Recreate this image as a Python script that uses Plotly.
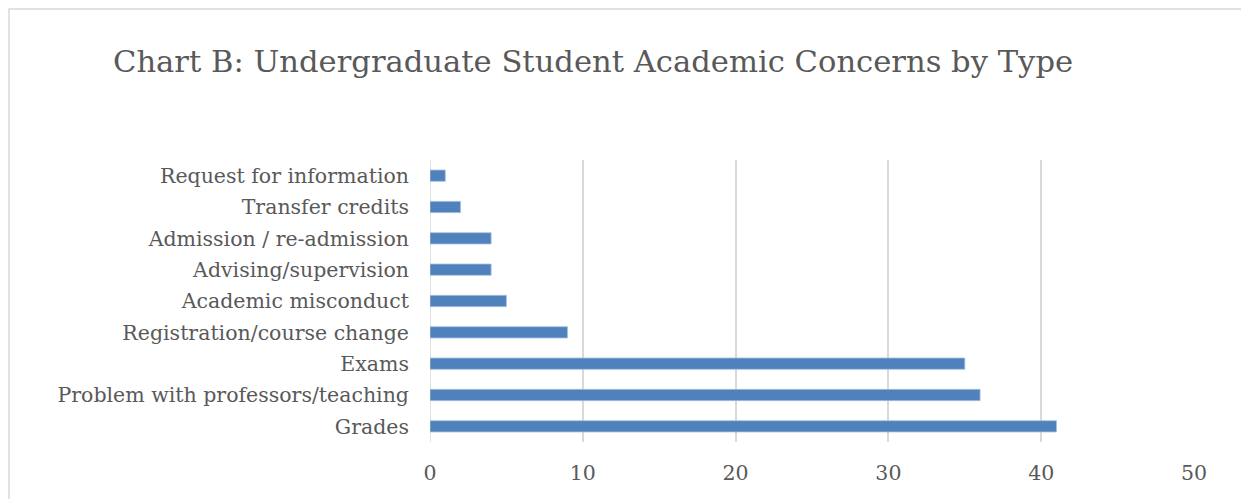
import plotly.graph_objects as go

# Concern categories (bottom to top) and counts
categories = [
    "Grades",
    "Problem with professors/teaching",
    "Exams",
    "Registration/course change",
    "Academic misconduct",
    "Advising/supervision",
    "Admission / re-admission",
    "Transfer credits",
    "Request for information",
]
counts = [41, 36, 35, 9, 5, 4, 4, 2, 1]
x_ticks = [0, 10, 20, 30, 40, 50]

W, H = 1241, 499
L, R, T, B = 430, 47, 160, 57
font_family = "DejaVu Serif, serif"
text_color = "#595959"

fig = go.Figure(
    go.Bar(
        x=counts,
        y=categories,
        orientation="h",
        width=0.36,
        marker=dict(color="#4F81BD", line=dict(color="#A7C0DE", width=0.8)),
        hoverinfo="x+y",
    )
)

# Outer chart border (left and top edges visible)
pw, ph = W - L - R, H - T - B
x0 = (9 - L) / pw
x1 = (W + 5 - L) / pw
y1 = 1 + (T - 9) / ph
y0 = -(H + 5 - (H - B)) / ph
fig.add_shape(type="rect", xref="paper", yref="paper", x0=x0, x1=x1, y0=y0, y1=y1,
              line=dict(color="#D9D9D9", width=1.5), fillcolor="rgba(0,0,0,0)", layer="below")

fig.update_layout(
    width=W,
    height=H,
    margin=dict(l=L, r=R, t=T, b=B),
    paper_bgcolor="white",
    plot_bgcolor="white",
    showlegend=False,
    font=dict(family=font_family, color=text_color),
    title=dict(
        text="Chart B: Undergraduate Student Academic Concerns by Type",
        x=113 / W,
        xanchor="left",
        xref="container",
        y=1 - 61 / H,
        yanchor="middle",
        yref="container",
        font=dict(family=font_family, size=30.6, color=text_color),
    ),
    xaxis=dict(
        range=[0, 50],
        tickvals=x_ticks,
        showgrid=True,
        gridcolor="#D9D9D9",
        gridwidth=1.5,
        zeroline=False,
        showline=False,
        ticks="",
        ticklabelstandoff=16,
        tickfont=dict(size=20.5, color=text_color),
        fixedrange=True,
    ),
    yaxis=dict(
        categoryorder="array",
        categoryarray=categories,
        showgrid=False,
        zeroline=False,
        showline=False,
        ticks="",
        ticklabelstandoff=20,
        tickfont=dict(size=20.5, color=text_color),
        fixedrange=True,
    ),
)

# Category axis line at x = 0
fig.add_shape(type="line", xref="x", yref="paper", x0=0, x1=0, y0=0, y1=1,
              line=dict(color="#D9D9D9", width=1.5), layer="below")

fig.write_html("out.html")
